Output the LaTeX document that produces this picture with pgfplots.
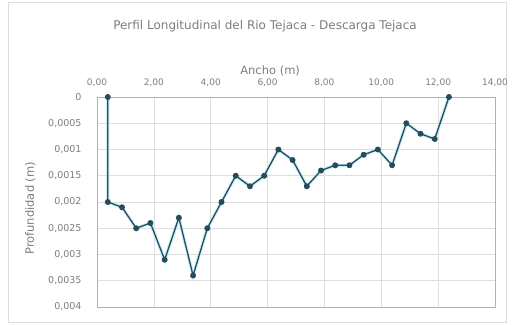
\documentclass[border=0pt]{standalone}
\usepackage{pgfplots}
\pgfplotsset{compat=1.18}
\usepackage{fontspec}
\setmainfont{DejaVu Sans}
\definecolor{txt}{RGB}{125,125,125}
\definecolor{ln}{RGB}{37,75,92}
\definecolor{glow}{RGB}{185,235,245}
\definecolor{grd}{RGB}{222,222,222}
\begin{document}
\begin{tikzpicture}
\path[use as bounding box] (0,0) rectangle (513pt,-324pt);
\draw[grd] (8pt,-2pt) rectangle (506pt,-322pt);
\node[txt, font=\fontsize{12}{14}\selectfont] at (265pt,-26pt) {Perfil Longitudinal del Rio Tejaca - Descarga Tejaca};
\begin{axis}[
  at={(97pt,-97pt)}, anchor=north west,
  scale only axis, width=398pt, height=210pt,
  xmin=0, xmax=14, ymin=0, ymax=0.004,
  y dir=reverse,
  xticklabel pos=upper,
  xtick={0,2,4,6,8,10,12,14},
  xticklabels={{0,00},{2,00},{4,00},{6,00},{8,00},{10,00},{12,00},{14,00}},
  ytick={0,0.0005,0.001,0.0015,0.002,0.0025,0.003,0.0035,0.004},
  yticklabels={0,{0,0005},{0,001},{0,0015},{0,002},{0,0025},{0,003},{0,0035},{0,004}},
  /pgf/number format/assume math mode=true,
  scaled y ticks=false,
  grid=major,
  major grid style={grd, line width=0.6pt},
  axis line style={grd!80!black, line width=0.6pt},
  tick style={draw=none},
  xticklabel style={txt, font=\fontsize{9}{10}\selectfont, yshift=7pt},
  yticklabel style={txt, font=\fontsize{9.5}{11}\selectfont, xshift=-12pt},
  xlabel={Ancho (m)},
  ylabel={Profundidad (m)},
  label style={txt, font=\fontsize{11.5}{14}\selectfont},
  xlabel style={at={(ticklabel cs:0.435)}, anchor=south, yshift=-4pt},
  ylabel style={at={(ticklabel cs:0.47)}, yshift=6pt},
]
\addplot[glow, line width=3.5pt, opacity=0.7] table {
x y
0.38 0
0.38 0.0020
0.88 0.0021
1.38 0.0025
1.88 0.0024
2.38 0.0031
2.88 0.0023
3.38 0.0034
3.88 0.0025
4.38 0.0020
4.88 0.0015
5.38 0.0017
5.88 0.0015
6.38 0.0010
6.88 0.0012
7.38 0.0017
7.88 0.0014
8.38 0.0013
8.88 0.0013
9.38 0.0011
9.88 0.0010
10.38 0.0013
10.88 0.0005
11.38 0.0007
11.88 0.0008
12.38 0
};
\addplot[ln, line width=1.3pt, mark=*, mark size=2.3pt, mark options={fill=ln, draw=ln}] table {
x y
0.38 0
0.38 0.0020
0.88 0.0021
1.38 0.0025
1.88 0.0024
2.38 0.0031
2.88 0.0023
3.38 0.0034
3.88 0.0025
4.38 0.0020
4.88 0.0015
5.38 0.0017
5.88 0.0015
6.38 0.0010
6.88 0.0012
7.38 0.0017
7.88 0.0014
8.38 0.0013
8.88 0.0013
9.38 0.0011
9.88 0.0010
10.38 0.0013
10.88 0.0005
11.38 0.0007
11.88 0.0008
12.38 0
};
\end{axis}
\end{tikzpicture}
\end{document}
